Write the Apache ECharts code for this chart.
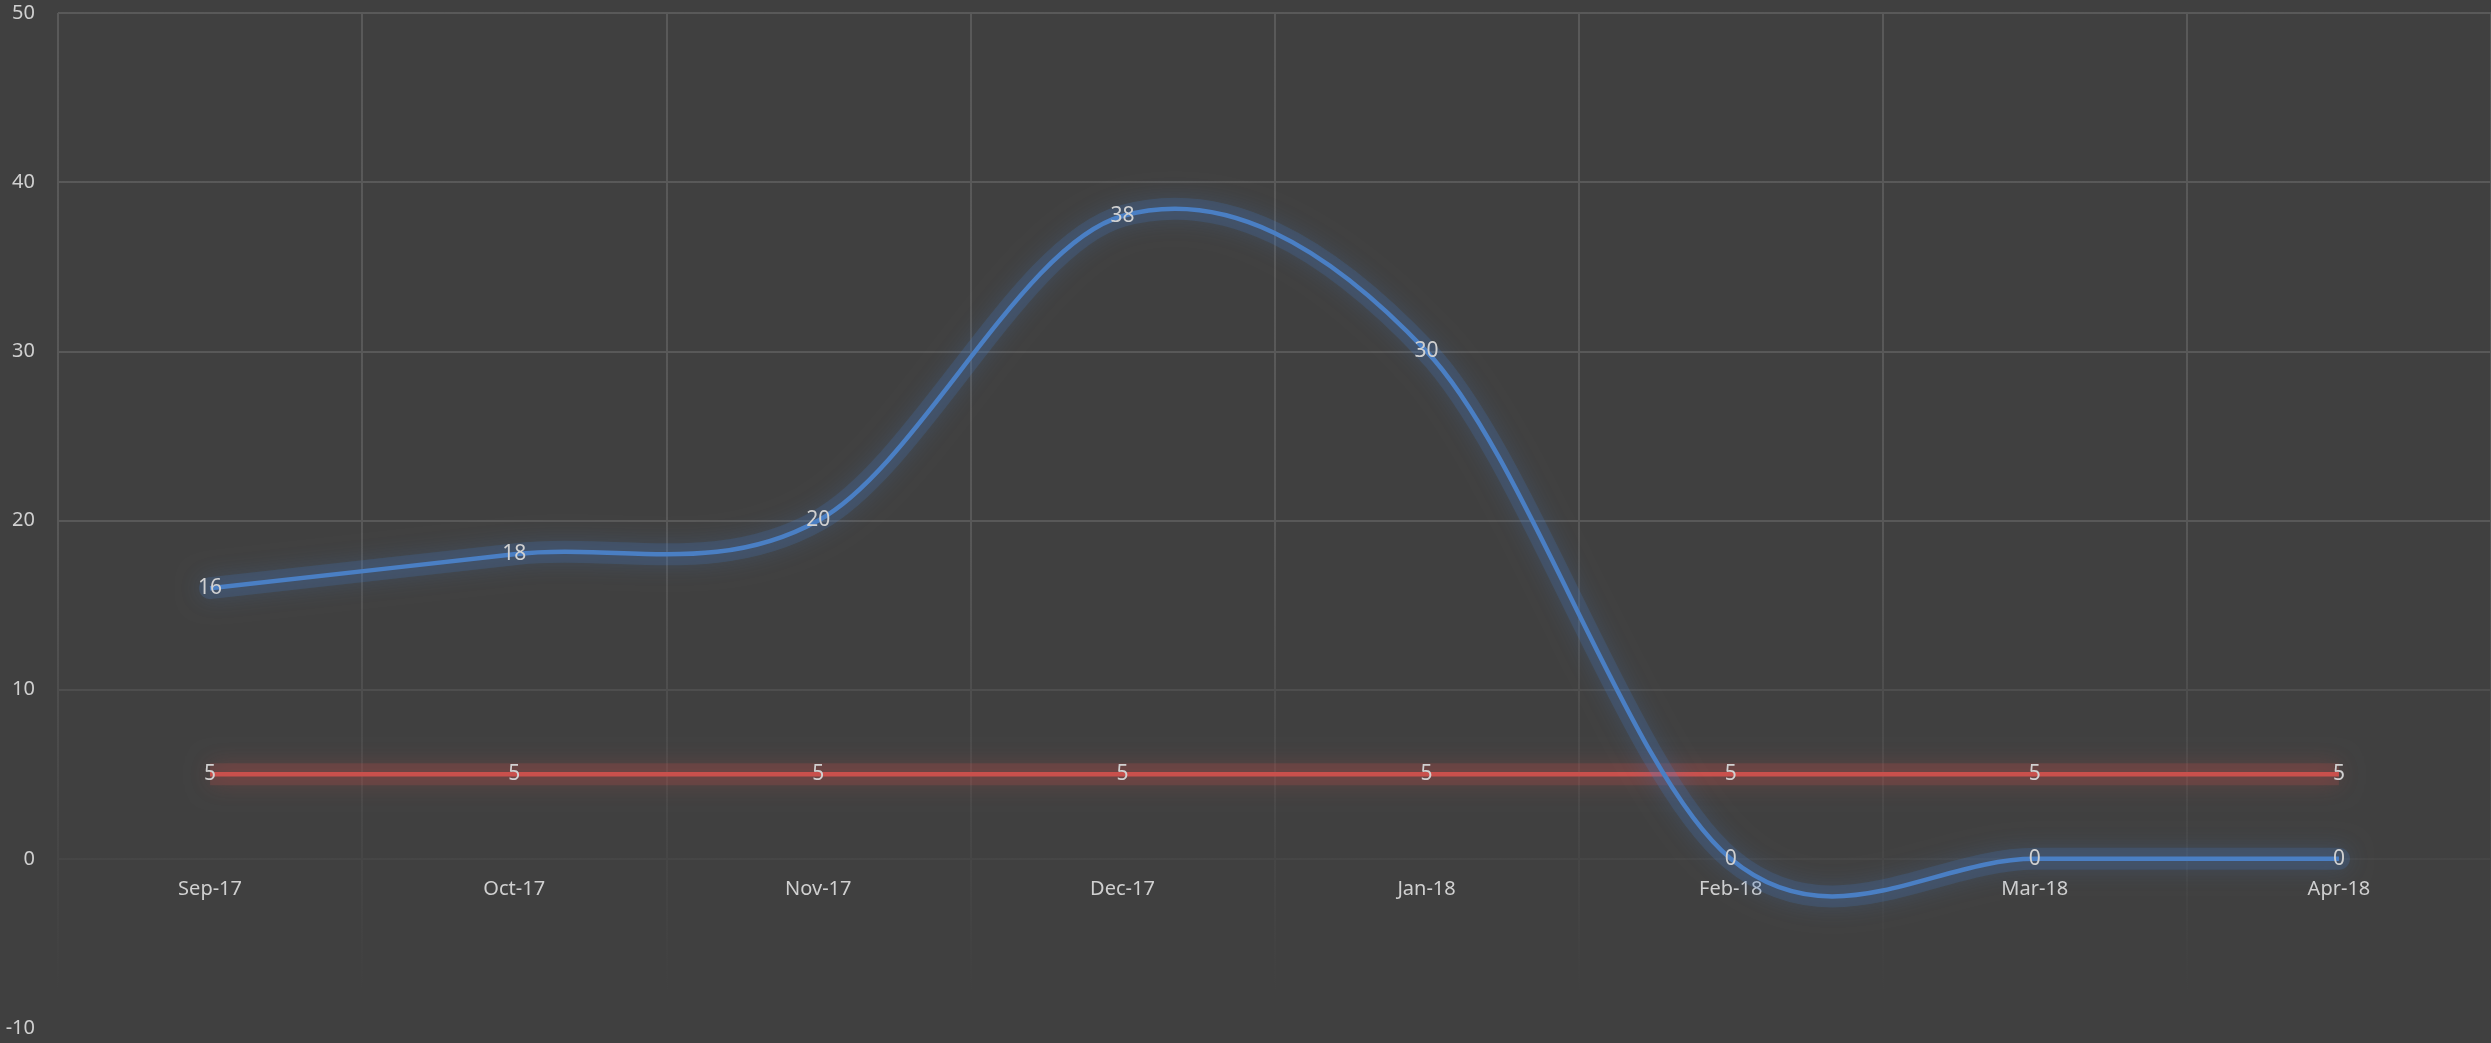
<!DOCTYPE html>
<html>
<head>
<meta charset="utf-8">
<script src="https://cdn.jsdelivr.net/npm/echarts@6/dist/echarts.min.js"></script>
<style>
  html, body { margin: 0; padding: 0; background: #404040; }
  #chart { width: 2491px; height: 1043px; }
</style>
</head>
<body>
<div id="chart"></div>
<script>
// Monthly counts against a fixed target of 5
const months = ['Sep-17', 'Oct-17', 'Nov-17', 'Dec-17', 'Jan-18', 'Feb-18', 'Mar-18', 'Apr-18'];
const actual = [16, 18, 20, 38, 30, 0, 0, 0];
const target = [5, 5, 5, 5, 5, 5, 5, 5];
const yTicks = { min: -10, max: 50, step: 10 };

const TEXT = '#d0d0d0';
const FONT = "'Noto Sans', 'Open Sans', sans-serif";
const BLUE = '#4a7fc4';
const RED = '#c9504c';
// soft halo: translucent wide stroke whose own shadow feathers the edges
const BLUE_GLOW = 'rgba(70,125,200,0.2)';
const RED_GLOW = 'rgba(205,78,74,0.2)';
const BLUE_SHADOW = 'rgb(70,125,200)';
const RED_SHADOW = 'rgb(205,78,74)';

const chart = echarts.init(document.getElementById('chart'));

// Grid lines fade out towards the lower part of the plot
const gridFade = new echarts.graphic.LinearGradient(0, 0, 0, 1043, [
  { offset: 0, color: '#595959' },
  { offset: 0.5, color: '#585858' },
  { offset: 0.66, color: '#4e4e4e' },
  { offset: 0.82, color: '#464646' },
  { offset: 0.95, color: '#404040' },
  { offset: 1, color: '#404040' }
], true);

// Smoothed curve: cubic Bezier segments with Catmull-Rom style control points
function smoothPath(pts) {
  const n = pts.length;
  let d = 'M' + pts[0][0] + ' ' + pts[0][1];
  for (let i = 0; i < n - 1; i++) {
    const p0 = pts[Math.max(i - 1, 0)];
    const p1 = pts[i];
    const p2 = pts[i + 1];
    const p3 = pts[Math.min(i + 2, n - 1)];
    const c1x = p1[0] + (p2[0] - p0[0]) / 6;
    const c1y = p1[1] + (p2[1] - p0[1]) / 6;
    const c2x = p2[0] - (p3[0] - p1[0]) / 6;
    const c2y = p2[1] - (p3[1] - p1[1]) / 6;
    d += ' C' + c1x + ' ' + c1y + ' ' + c2x + ' ' + c2y + ' ' + p2[0] + ' ' + p2[1];
  }
  return d;
}

const labelStyle = {
  show: true,
  position: 'inside',
  color: TEXT,
  fontFamily: FONT,
  fontSize: 21
};

chart.setOption({
  backgroundColor: '#404040',
  animation: false,
  grid: { left: 58, right: 0, top: 13, bottom: 15, outerBoundsMode: 'none', containLabel: false },
  xAxis: {
    type: 'category',
    data: months,
    boundaryGap: true,
    axisLine: { show: false, onZero: false },
    axisTick: { show: false },
    // month labels sit just under the zero line
    axisLabel: { color: TEXT, fontFamily: FONT, fontSize: 20, margin: -149 },
    splitLine: { show: true, interval: 0, lineStyle: { color: gridFade, width: 2 } }
  },
  yAxis: {
    type: 'value',
    min: yTicks.min,
    max: yTicks.max,
    interval: yTicks.step,
    axisLine: { show: false },
    axisTick: { show: false },
    axisLabel: { color: TEXT, fontFamily: FONT, fontSize: 20, margin: 23 },
    splitLine: { show: true, lineStyle: { color: gridFade, width: 2 } }
  },
  series: [
    {
      name: 'Target glow',
      type: 'line',
      data: target,
      symbol: 'none',
      silent: true,
      lineStyle: { color: RED_GLOW, width: 22, shadowBlur: 22, shadowColor: RED_SHADOW },
      z: 1
    },
    {
      name: 'Target',
      type: 'line',
      data: target,
      symbol: 'circle',
      symbolSize: 1,
      itemStyle: { color: 'transparent' },
      lineStyle: { color: RED, width: 4.5 },
      label: labelStyle,
      z: 2
    },
    {
      name: 'Actual',
      type: 'custom',
      data: actual.map((v, i) => [i, v]),
      renderItem: function (params, api) {
        if (params.dataIndexInside !== 0) return null;
        const pts = [];
        for (let i = 0; i < params.dataInsideLength; i++) {
          pts.push(api.coord([api.value(0, i), api.value(1, i)]));
        }
        const d = smoothPath(pts);
        return {
          type: 'group',
          silent: true,
          children: [
            {
              type: 'path',
              shape: { pathData: d },
              style: {
                fill: null, stroke: BLUE_GLOW, lineWidth: 22,
                lineJoin: 'round', lineCap: 'round',
                shadowBlur: 22, shadowColor: BLUE_SHADOW
              }
            },
            {
              type: 'path',
              shape: { pathData: d },
              style: { fill: null, stroke: BLUE, lineWidth: 4.5, lineJoin: 'round' }
            }
          ]
        };
      },
      z: 3
    },
    {
      name: 'Actual labels',
      type: 'line',
      data: actual,
      symbol: 'circle',
      symbolSize: 1,
      itemStyle: { color: 'transparent' },
      lineStyle: { opacity: 0, width: 0 },
      label: labelStyle,
      z: 4
    }
  ]
});
</script>
</body>
</html>
